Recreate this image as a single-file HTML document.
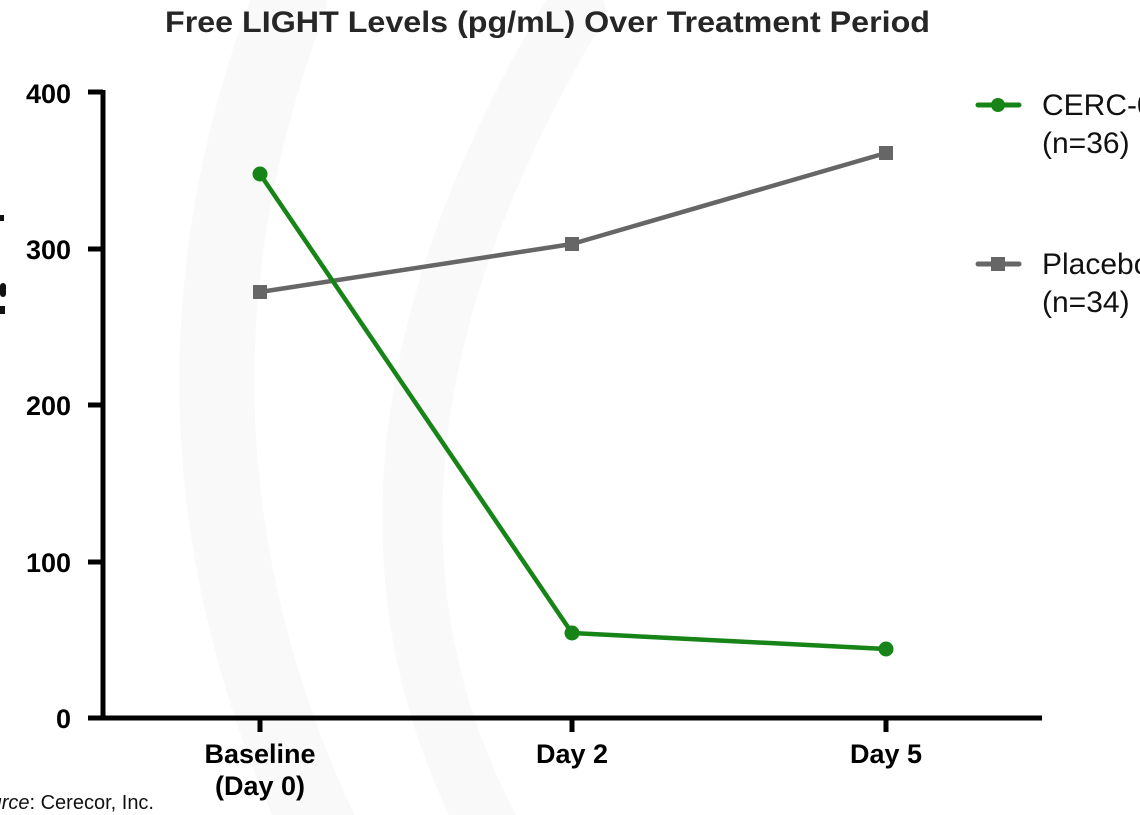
<!DOCTYPE html>
<html>
<head>
<meta charset="utf-8">
<style>
  html, body { margin: 0; padding: 0; background: #ffffff; }
  body { width: 1140px; height: 815px; overflow: hidden; }
  svg { display: block; }
</style>
</head>
<body>
<svg width="1140" height="815" viewBox="0 0 1140 815" xmlns="http://www.w3.org/2000/svg">
  <rect x="0" y="0" width="1140" height="815" fill="#ffffff"/>

  <!-- faint background swooshes -->
  <g fill="none" stroke="#f9f9f9" stroke-linecap="round">
    <path d="M 290 0 Q 130 420 320 830" stroke-width="75"/>
    <path d="M 575 10 Q 300 470 490 830" stroke-width="60"/>
  </g>

  <!-- title -->
  <text x="165" y="32" textLength="765" lengthAdjust="spacingAndGlyphs"
        font-family="'Liberation Sans', sans-serif" font-weight="bold" font-size="30" fill="#262626">Free LIGHT Levels (pg/mL) Over Treatment Period</text>

  <!-- y-axis title fragments at left edge -->
  <g fill="#111">
    <rect x="0" y="215" width="4" height="6"/>
    <rect x="0" y="283" width="6" height="14" rx="3"/>
    <rect x="0" y="306" width="5" height="8"/>
  </g>

  <!-- axes -->
  <g stroke="#000" stroke-width="5" fill="none">
    <line x1="103" y1="90" x2="103" y2="720"/>
    <line x1="88" y1="718" x2="1042" y2="718"/>
    <!-- y ticks -->
    <line x1="88" y1="92" x2="103" y2="92"/>
    <line x1="88" y1="249" x2="103" y2="249"/>
    <line x1="88" y1="405" x2="103" y2="405"/>
    <line x1="88" y1="562" x2="103" y2="562"/>
    <!-- x ticks -->
    <line x1="260" y1="718" x2="260" y2="732"/>
    <line x1="572" y1="718" x2="572" y2="732"/>
    <line x1="886" y1="718" x2="886" y2="732"/>
  </g>

  <!-- y tick labels -->
  <g font-family="'Liberation Sans', sans-serif" font-weight="bold" font-size="27" fill="#000" text-anchor="end">
    <text x="71" y="103">400</text>
    <text x="71" y="259">300</text>
    <text x="71" y="415">200</text>
    <text x="71" y="572">100</text>
    <text x="71" y="728">0</text>
  </g>

  <!-- x tick labels -->
  <g font-family="'Liberation Sans', sans-serif" font-weight="bold" font-size="27" fill="#000" text-anchor="middle">
    <text x="260" y="763">Baseline</text>
    <text x="260" y="795">(Day 0)</text>
    <text x="572" y="763">Day 2</text>
    <text x="886" y="763">Day 5</text>
  </g>

  <!-- placebo series -->
  <polyline points="260,292 572,244 886,153" fill="none" stroke="#666666" stroke-width="4.5" stroke-linejoin="round"/>
  <g fill="#666666">
    <rect x="253" y="285" width="14" height="14"/>
    <rect x="565" y="237" width="14" height="14"/>
    <rect x="879" y="146" width="14" height="14"/>
  </g>

  <!-- CERC series -->
  <polyline points="260,174 572,633 886,649" fill="none" stroke="#178417" stroke-width="4.5" stroke-linejoin="round"/>
  <g fill="#178417">
    <circle cx="260" cy="174" r="7.5"/>
    <circle cx="572" cy="633" r="7.5"/>
    <circle cx="886" cy="649" r="7.5"/>
  </g>

  <!-- legend -->
  <line x1="978" y1="105" x2="1019" y2="105" stroke="#178417" stroke-width="5" stroke-linecap="round"/>
  <circle cx="998" cy="105" r="7" fill="#178417"/>
  <line x1="978" y1="264" x2="1019" y2="264" stroke="#666666" stroke-width="5" stroke-linecap="round"/>
  <rect x="991" y="257" width="14" height="14" fill="#666666"/>
  <g font-family="'Liberation Sans', sans-serif" font-size="30" fill="#111">
    <text x="1042" y="115">CERC-002</text>
    <text x="1042" y="153">(n=36)</text>
    <text x="1042" y="274">Placebo</text>
    <text x="1042" y="312">(n=34)</text>
  </g>

  <!-- source -->
  <text x="154" y="809" text-anchor="end" font-family="'Liberation Sans', sans-serif" font-size="20" fill="#111"><tspan font-style="italic">Source</tspan>: Cerecor, Inc.</text>
</svg>
</body>
</html>
